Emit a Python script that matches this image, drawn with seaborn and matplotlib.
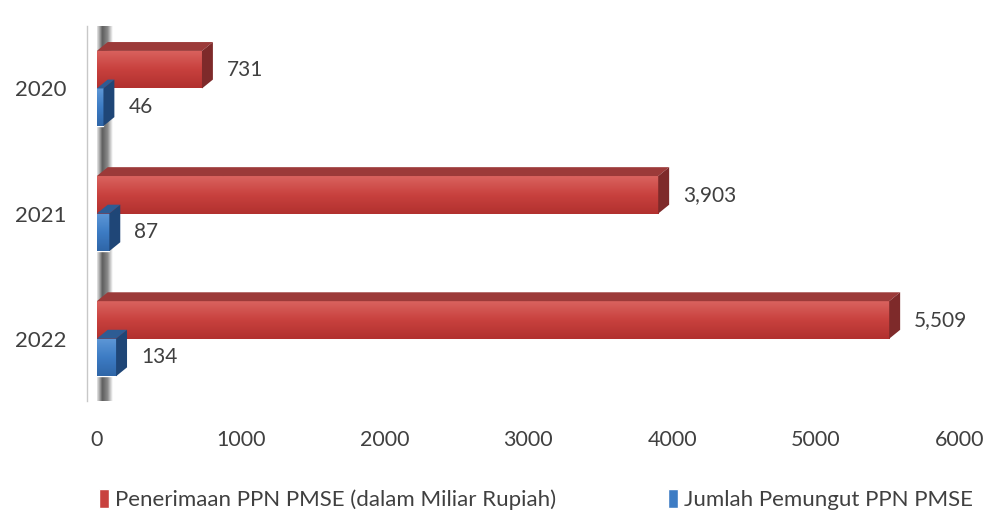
import numpy as np
import pandas as pd
import matplotlib
matplotlib.use("Agg")
import matplotlib.pyplot as plt
import seaborn as sns
from matplotlib.patches import Polygon, Rectangle
from matplotlib.colors import LinearSegmentedColormap

# data
tahun = ["2020", "2021", "2022"]
penerimaan = [731, 3903, 5509]   # Penerimaan PPN PMSE (dalam Miliar Rupiah)
pemungut = [46, 87, 134]         # Jumlah Pemungut PPN PMSE
seri = ["Penerimaan PPN PMSE (dalam Miliar Rupiah)", "Jumlah Pemungut PPN PMSE"]
xticks = [0, 1000, 2000, 3000, 4000, 5000, 6000]

df = pd.DataFrame({
    "tahun": tahun * 2,
    "nilai": penerimaan + pemungut,
    "seri": [seri[0]] * 3 + [seri[1]] * 3,
})

sns.set_theme(style="white")
plt.rcParams["font.family"] = ["Lato", "DejaVu Sans"]
txt_col = "#404040"

# colours: front (light, dark), top, side
warna = {
    seri[0]: dict(front="#c8413e", light="#d9625e", dark="#b2312f", top="#9c3a39", side="#7e2a2a"),
    seri[1]: dict(front="#3d7cc4", light="#5d97d6", dark="#2f66a8", top="#2d5c94", side="#1f4677"),
}

fig = plt.figure(figsize=(9.88, 5.13), dpi=100)
ax = fig.add_axes([0.098, 0.2105, 0.8735, 0.739])

sns.barplot(data=df, y="tahun", x="nilai", hue="seri", orient="h",
            palette=[warna[s]["front"] for s in seri], width=0.6,
            ax=ax, legend=False, saturation=1, zorder=3)

# depth of the fake 3D bars (data units)
dx = 76
dy = 0.071

# left "floor" shadow
cmap_wall = LinearSegmentedColormap.from_list("wall", ["#e6e6e6", "#5e5e5e", "#8a8a8a", "#ffffff"])
grad = np.linspace(0, 1, 64).reshape(1, -1)
ax.imshow(grad, cmap=cmap_wall, extent=(0, 105, 2.5, -0.5), aspect="auto", zorder=1)

for cont, s, vals in zip(ax.containers, seri, [penerimaan, pemungut]):
    c = warna[s]
    cmap_bar = LinearSegmentedColormap.from_list("b", [c["light"], c["front"], c["dark"]])
    for bar, v in zip(cont, vals):
        x0 = bar.get_x()
        x1 = x0 + bar.get_width()
        y = bar.get_y()
        h = bar.get_height()
        # front gradient
        g = np.linspace(0, 1, 32).reshape(-1, 1)
        im = ax.imshow(g, cmap=cmap_bar, extent=(x0, x1, y + h, y), aspect="auto", zorder=4)
        im.set_clip_path(bar)
        top = Polygon([(x0, y), (x0 + dx, y - dy), (x1 + dx, y - dy), (x1, y)],
                      closed=True, facecolor=c["top"], edgecolor="none", zorder=4)
        side = Polygon([(x1, y), (x1 + dx, y - dy), (x1 + dx, y + h - dy), (x1, y + h)],
                       closed=True, facecolor=c["side"], edgecolor="none", zorder=4)
        ax.add_patch(top)
        ax.add_patch(side)
        ax.annotate(f"{v:,}", xy=(x1 + dx, y + h / 2), xytext=(14, 0),
                    textcoords="offset pixels", va="center", ha="left",
                    fontsize=15, color=txt_col)

ax.set_xlim(0, 6000)
ax.set_ylim(2.53, -0.47)
ax.set_xticks(xticks)
ax.set_xticklabels([str(t) for t in xticks])
ax.set_xlabel("")
ax.set_ylabel("")
ax.tick_params(axis="x", length=0, pad=18, labelsize=15.5, labelcolor=txt_col)
ax.tick_params(axis="y", length=0, pad=15, labelsize=16, labelcolor=txt_col)

for sp in ["top", "right", "bottom"]:
    ax.spines[sp].set_visible(False)
ax.spines["left"].set_position(("outward", 7))
ax.spines["left"].set_color("#c8c8c8")
ax.spines["left"].set_linewidth(1.0)
ax.spines["left"].set_bounds(2.5, -0.5)
ax.set_yticks([-0.5, 0.5, 1.5, 2.5], minor=True)
ax.tick_params(axis="y", which="minor", length=5, color="#c8c8c8", width=1)

# legend
handles = [Rectangle((0, 0), 1, 1, facecolor=warna[s]["front"]) for s in seri]
fig.legend(handles, seri, loc="center", bbox_to_anchor=(0.5425, 0.026), ncol=2,
           frameon=False, fontsize=16, handlelength=0.45, handleheight=0.95,
           handletextpad=0.3, columnspacing=5.0, labelcolor=txt_col)

fig.savefig("out.png", dpi=100)
